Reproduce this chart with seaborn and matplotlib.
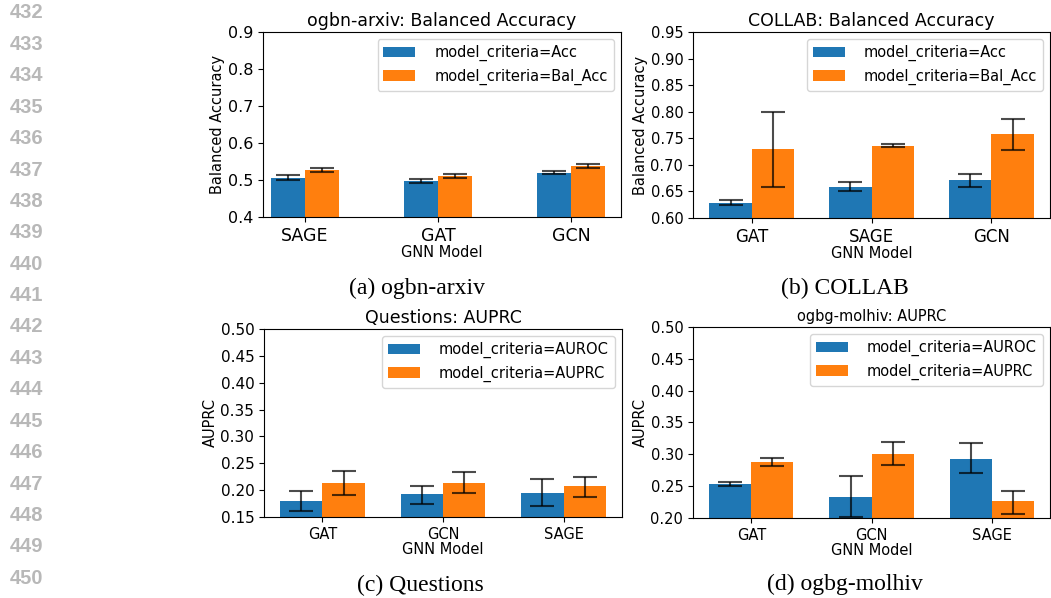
import numpy as np
import pandas as pd
import matplotlib
matplotlib.use("Agg")
import matplotlib.pyplot as plt
import seaborn as sns

# ---- data ----
arxiv_models = ["SAGE", "GAT", "GCN"]
arxiv_acc = [0.506, 0.498, 0.519]
arxiv_acc_lo = [0.500, 0.492, 0.516]
arxiv_acc_hi = [0.513, 0.504, 0.523]
arxiv_bal = [0.527, 0.511, 0.538]
arxiv_bal_lo = [0.522, 0.505, 0.533]
arxiv_bal_hi = [0.532, 0.516, 0.543]

collab_models = ["GAT", "SAGE", "GCN"]
collab_acc = [0.629, 0.659, 0.672]
collab_acc_lo = [0.624, 0.651, 0.659]
collab_acc_hi = [0.634, 0.668, 0.683]
collab_bal = [0.730, 0.736, 0.758]
collab_bal_lo = [0.659, 0.733, 0.728]
collab_bal_hi = [0.799, 0.739, 0.786]

questions_models = ["GAT", "GCN", "SAGE"]
questions_auroc = [0.179, 0.192, 0.195]
questions_auroc_lo = [0.161, 0.175, 0.171]
questions_auroc_hi = [0.198, 0.208, 0.220]
questions_auprc = [0.214, 0.214, 0.207]
questions_auprc_lo = [0.191, 0.195, 0.187]
questions_auprc_hi = [0.235, 0.233, 0.225]

molhiv_models = ["GAT", "GCN", "SAGE"]
molhiv_auroc = [0.254, 0.233, 0.293]
molhiv_auroc_lo = [0.251, 0.202, 0.270]
molhiv_auroc_hi = [0.257, 0.266, 0.317]
molhiv_auprc = [0.288, 0.301, 0.226]
molhiv_auprc_lo = [0.281, 0.283, 0.207]
molhiv_auprc_hi = [0.295, 0.320, 0.243]

line_numbers = list(range(432, 451))

colors = ["#1f77b4", "#ff7f0e"]


def make_df(models, crit, vals, los, his):
    rows = []
    for c, v, lo, hi in zip(crit, vals, los, his):
        for m, a, b, d in zip(models, v, lo, hi):
            rows.append({"model": m, "criteria": c, "value": a, "lo": b, "hi": d})
    return pd.DataFrame(rows)


def panel(ax, df, models, crit, width, title, tsize, ylabel, yticks, yfmt, xsize, ysize, xlim=None):
    sns.barplot(data=df, x="model", y="value", hue="criteria", order=models,
                hue_order=crit, palette=colors, width=width, saturation=1,
                errorbar=None, ax=ax)
    for cont, c in zip(ax.containers, crit):
        sub = df[df.criteria == c].set_index("model").loc[models]
        xs = [p.get_x() + p.get_width() / 2 for p in cont.patches]
        ys = sub["value"].values
        err = [ys - sub["lo"].values, sub["hi"].values - ys]
        ax.errorbar(xs, ys, yerr=err, fmt="none", ecolor="black", alpha=0.7,
                    elinewidth=1.5, capsize=8.5, capthick=1.5)
    ax.set_ylim(yticks[0], yticks[-1])
    ax.set_yticks(yticks)
    ax.set_yticklabels([yfmt % t for t in yticks], fontsize=ysize)
    ax.tick_params(axis="x", labelsize=xsize)
    if xlim is not None:
        ax.set_xlim(*xlim)
    ax.set_title(title, fontsize=tsize, pad=4)
    ax.set_ylabel(ylabel, fontsize=10.5, labelpad=2)
    ax.set_xlabel("GNN Model", fontsize=10.5, labelpad=0)
    h, l = ax.get_legend_handles_labels()
    ax.legend(h, l, loc="upper right", fontsize=10.5, handletextpad=1.3,
              handlelength=2.2)


fig = plt.figure(figsize=(10.51, 5.98), dpi=100)

ax_a = fig.add_axes([0.2502, 0.6371, 0.3406, 0.3094])
ax_b = fig.add_axes([0.6594, 0.6355, 0.3397, 0.3110])
ax_c = fig.add_axes([0.2512, 0.1355, 0.3406, 0.3144])
ax_d = fig.add_axes([0.6594, 0.1338, 0.3397, 0.3194])

acc_crit = ["model_criteria=Acc", "model_criteria=Bal_Acc"]
pr_crit = ["model_criteria=AUROC", "model_criteria=AUPRC"]

df_a = make_df(arxiv_models, acc_crit, [arxiv_acc, arxiv_bal],
               [arxiv_acc_lo, arxiv_bal_lo], [arxiv_acc_hi, arxiv_bal_hi])
df_b = make_df(collab_models, acc_crit, [collab_acc, collab_bal],
               [collab_acc_lo, collab_bal_lo], [collab_acc_hi, collab_bal_hi])
df_c = make_df(questions_models, pr_crit, [questions_auroc, questions_auprc],
               [questions_auroc_lo, questions_auprc_lo], [questions_auroc_hi, questions_auprc_hi])
df_d = make_df(molhiv_models, pr_crit, [molhiv_auroc, molhiv_auprc],
               [molhiv_auroc_lo, molhiv_auprc_lo], [molhiv_auroc_hi, molhiv_auprc_hi])

panel(ax_a, df_a, arxiv_models, acc_crit, 0.51, "ogbn-arxiv: Balanced Accuracy", 12.5,
      "Balanced Accuracy", np.round(np.arange(0.4, 0.91, 0.1), 2), "%.1f", 12.5, 11.5,
      xlim=(-0.315, 2.373))
panel(ax_b, df_b, collab_models, acc_crit, 0.71, "COLLAB: Balanced Accuracy", 12.5,
      "Balanced Accuracy", np.round(np.arange(0.6, 0.951, 0.05), 2), "%.2f", 12, 10.5)
panel(ax_c, df_c, questions_models, pr_crit, 0.70, "Questions: AUPRC", 12.5,
      "AUPRC", np.round(np.arange(0.15, 0.501, 0.05), 2), "%.2f", 10.5, 11)
panel(ax_d, df_d, molhiv_models, pr_crit, 0.70, "ogbg-molhiv: AUPRC", 10.5,
      "AUPRC", np.round(np.arange(0.2, 0.501, 0.05), 2), "%.2f", 10.5, 10.5)

# sub-captions
cap = dict(family="Liberation Serif", fontsize=17, ha="center", va="center")
fig.text(417 / 1051, 1 - 288 / 598, "(a) ogbn-arxiv", **cap)
fig.text(845 / 1051, 1 - 288 / 598, "(b) COLLAB", **cap)
fig.text(420 / 1051, 1 - 585 / 598, "(c) Questions", **cap)
fig.text(845 / 1051, 1 - 584 / 598, "(d) ogbg-molhiv", **cap)

# page line numbers
for i, n in enumerate(line_numbers):
    fig.text(10 / 1051, 1 - (13 + i * 31.4) / 598, str(n), family="Liberation Sans",
             fontweight="bold", fontsize=14.5, color="#b8b8b8", ha="left", va="center")

fig.savefig("out.png", dpi=100)
